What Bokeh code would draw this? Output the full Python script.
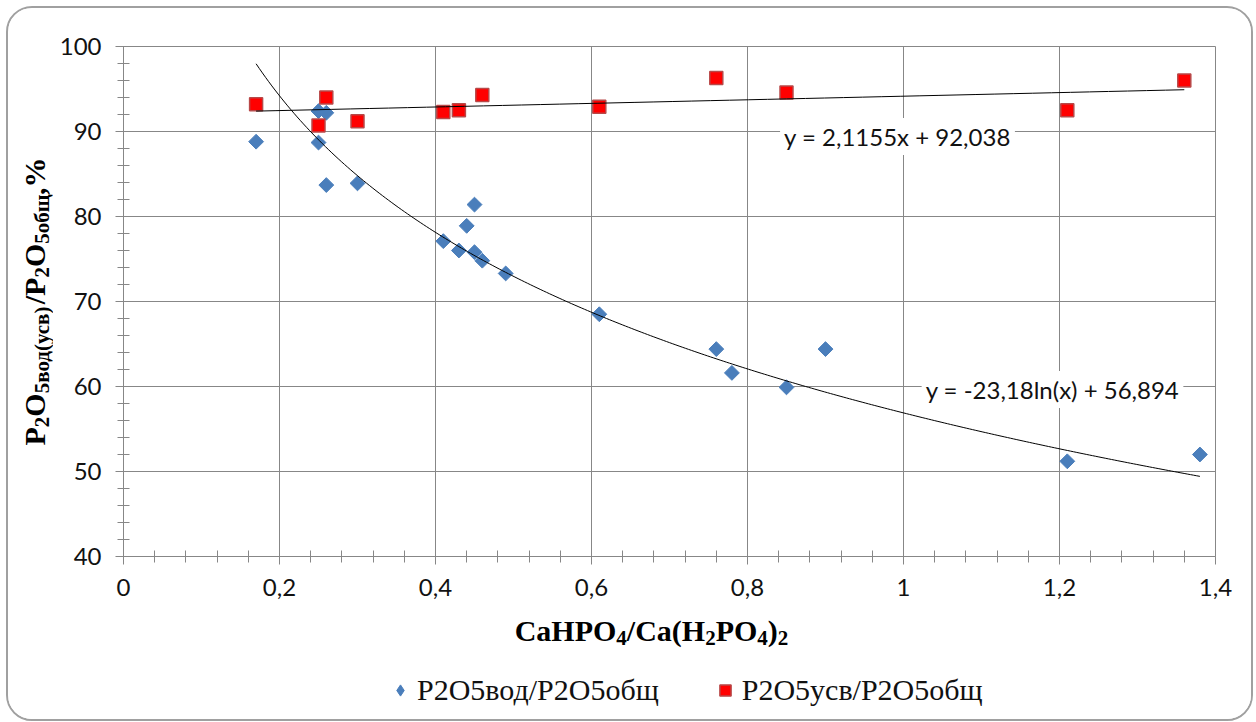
import numpy as np
from bokeh.plotting import figure
from bokeh.layouts import row, column
from bokeh.models import (Range1d, FixedTicker, CustomJSTickFormatter, Label,
                          Legend, LegendItem)
from bokeh.embed import file_html
from bokeh.resources import INLINE

# ---------------- data ----------------
x_vod = [0.17, 0.25, 0.26, 0.25, 0.26, 0.30, 0.41, 0.43, 0.44, 0.45, 0.45,
         0.46, 0.49, 0.61, 0.76, 0.78, 0.85, 0.90, 1.21, 1.38]
y_vod = [88.8, 92.4, 92.2, 88.7, 83.7, 83.9, 77.1, 76.0, 78.9, 81.4, 75.8,
         74.8, 73.3, 68.5, 64.4, 61.6, 59.9, 64.4, 51.2, 52.0]
x_usv = [0.17, 0.25, 0.26, 0.30, 0.41, 0.43, 0.46, 0.61, 0.76, 0.85, 1.21, 1.36]
y_usv = [93.2, 90.7, 94.0, 91.2, 92.3, 92.5, 94.3, 92.9, 96.3, 94.6, 92.5, 96.0]

lin_slope, lin_icpt = 2.1155, 92.038          # y = 2,1155x + 92,038
log_coef, log_icpt = -23.18, 56.894           # y = -23,18ln(x) + 56,894
eq_lin = "y = 2,1155x + 92,038"
eq_log = "y = -23,18ln(x) + 56,894"

x_ticks = [0, 0.2, 0.4, 0.6, 0.8, 1.0, 1.2, 1.4]
y_ticks = [40, 50, 60, 70, 80, 90, 100]
series_names = ["P2O5вод/P2O5общ", "P2O5усв/P2O5общ"]
x_title = [("CaHPO", 0), ("4", 1), ("/Ca(H", 0), ("2", 1), ("PO", 0),
           ("4", 1), (")", 0), ("2", 1)]
y_title = [("P", 0), ("2", 1), ("O", 0), ("5вод(усв)", 1), ("/", 0), ("P", 0),
           ("2", 1), ("O", 0), ("5общ", 1), (",%", 0)]

# ---------------- layout (page pixels) ----------------
OX, OY = 8, 8                 # content origin on the page
YW = 45                       # y-title strip width
TOTAL_W = 1243
H_TOP = 602                   # height of plot row
H_BOT = 109                   # height of x-title / legend strip
PW = TOTAL_W - YW
FRAME_L, FRAME_T, FRAME_W, FRAME_H = 123, 46, 1092, 510
X0, X1, Y0, Y1 = 0, 1.4, 40, 100

def dx(ix):
    return X0 + (ix - FRAME_L) / FRAME_W * (X1 - X0)

def dy(iy):
    return Y0 + (FRAME_T + FRAME_H - iy) / FRAME_H * (Y1 - Y0)

def no_align(f):
    try:
        f.frame_align = False
    except Exception:
        pass

GRID = "#878787"
mbl = FRAME_L - (OX + YW)
mbt = FRAME_T - OY
p = figure(width=PW, height=H_TOP, x_range=Range1d(X0, X1), y_range=Range1d(Y0, Y1),
           output_backend="svg", toolbar_location=None,
           min_border_left=mbl, min_border_right=PW - mbl - FRAME_W,
           min_border_top=mbt, min_border_bottom=H_TOP - mbt - FRAME_H)
no_align(p)
p.background_fill_color = "white"
p.border_fill_color = "white"
p.outline_line_color = GRID
p.outline_line_width = 1

fmt = CustomJSTickFormatter(code="""
const s = (Math.round(tick*10)/10).toString();
return s.replace('.', ',');
""")

minor_x = [i * 0.04 for i in range(36)]
minor_y = [40 + i * 2 for i in range(31)]
p.xaxis.ticker = FixedTicker(ticks=x_ticks, minor_ticks=minor_x)
p.yaxis.ticker = FixedTicker(ticks=y_ticks, minor_ticks=minor_y)
p.xaxis.formatter = fmt
p.yaxis.formatter = fmt
for ax in (p.xaxis, p.yaxis):
    ax.axis_line_color = GRID
    ax.major_tick_line_color = GRID
    ax.minor_tick_line_color = GRID
    ax.major_tick_in = 0
    ax.major_tick_out = 8
    ax.minor_tick_in = 6
    ax.minor_tick_out = 6
    ax.major_label_text_font = "Lato"
    ax.major_label_text_font_size = "24px"
    ax.major_label_text_color = "#111111"
    ax.major_label_standoff = 14
p.xgrid.grid_line_color = GRID
p.ygrid.grid_line_color = GRID
p.xgrid.ticker = FixedTicker(ticks=x_ticks)
p.ygrid.ticker = FixedTicker(ticks=y_ticks)

# ---------------- marks ----------------
BLUE, RED, RED_EDGE = "#4a7ebb", "#ff0000", "#b84848"
VOD_STYLE = dict(marker="square", angle=np.pi / 4, size=10.5,
                 fill_color=BLUE, line_color=BLUE)
USV_STYLE = dict(marker="square", size=13, fill_color=RED,
                 line_color=RED_EDGE, line_width=1.5)
p.scatter(x_vod, y_vod, **VOD_STYLE)
p.scatter(x_usv, y_usv, **USV_STYLE)

xl = np.linspace(min(x_usv), max(x_usv), 50)
p.line(xl, lin_slope * xl + lin_icpt, line_color="black", line_width=1)
xg = np.linspace(min(x_vod), max(x_vod), 300)
p.line(xg, log_coef * np.log(xg) + log_icpt, line_color="black", line_width=1)

for txt, ix, iy in [(eq_lin, 897, 136), (eq_log, 1052, 389)]:
    p.add_layout(Label(x=dx(ix), y=dy(iy), text=txt, text_align="center",
                       text_baseline="middle", text_font="Lato",
                       text_font_size="24px", text_color="#111111",
                       background_fill_color="white", padding=4))

# ---------------- title helpers ----------------
TB = {"C": .722, "a": .5, "H": .778, "P": .611, "O": .778, "/": .278,
      "(": .333, ")": .333, ",": .25, "%": 1.0, "в": .54, "о": .5, "д": .55,
      "у": .5, "с": .444, "б": .5, "щ": .82}

def width(s, size):
    return sum(TB.get(c, .5) for c in s) * size

MAIN, SUB, SHIFT = 30, 21, 5
MID = 0.3375                  # em distance from baseline to middle of text box

def strip(w, h):
    f = figure(width=w, height=h, x_range=Range1d(0, w), y_range=Range1d(0, h),
               output_backend="svg", toolbar_location=None, min_border=0,
               x_axis_type=None, y_axis_type=None)
    no_align(f)
    f.grid.visible = False
    f.outline_line_color = None
    f.background_fill_color = "white"
    f.border_fill_color = "white"
    return f

def title_label(t, x, y, sz, angle=0.0):
    return Label(x=x, y=y, text=t, angle=angle, text_align="left",
                 text_baseline="middle", text_font="Liberation Serif",
                 text_font_style="bold", text_font_size=f"{sz}px",
                 text_color="black")

# ---------------- y title strip ----------------
fy = strip(YW, H_TOP)
BASE_Y = 44                   # page x of main-text baseline
center_y = H_TOP - ((FRAME_T + FRAME_H / 2) - OY)
sizes = [SUB if s else MAIN for _, s in y_title]
total = sum(width(t, sz) for (t, _), sz in zip(y_title, sizes))
pos = center_y - total / 2
for (t, s), sz in zip(y_title, sizes):
    base = BASE_Y + (SHIFT if s else 0)
    fy.add_layout(title_label(t, base - MID * sz - OX, pos, sz, np.pi / 2))
    pos += width(t, sz)

# ---------------- x title + legend strip ----------------
fb = strip(TOTAL_W, H_BOT)
bot_top = OY + H_TOP            # page y of strip top

def by(iy):
    return H_BOT - (iy - bot_top)

BASE_X = 640                  # page y of main-text baseline
sizes = [SUB if s else MAIN for _, s in x_title]
total = sum(width(t, sz) for (t, _), sz in zip(x_title, sizes))
pos = (651 - OX) - total / 2
for (t, s), sz in zip(x_title, sizes):
    base = BASE_X + (SHIFT if s else 0)
    fb.add_layout(title_label(t, pos, by(base - MID * sz), sz))
    pos += width(t, sz)

# legend swatches (library-drawn markers, no data shown)
g_vod = fb.scatter([np.nan], [np.nan], marker="diamond", size=20,
                   fill_color=BLUE, line_color=BLUE)
g_usv = fb.scatter([np.nan], [np.nan], marker="square", size=14,
                   fill_color=RED, line_color=RED_EDGE, line_width=1.5)
legend = Legend(items=[LegendItem(label=series_names[0], renderers=[g_vod]),
                       LegendItem(label=series_names[1], renderers=[g_usv])],
                orientation="horizontal", location=(386 - OX, int(by(707))),
                label_text_font="Liberation Serif", label_text_font_size="30px",
                label_text_color="#111111", border_line_color=None,
                background_fill_alpha=0, spacing=52, glyph_width=28,
                glyph_height=30, label_height=30, label_standoff=3,
                padding=0, margin=0)
fb.add_layout(legend)

layout = column(row(fy, p, spacing=0), fb, spacing=0,
                styles={"margin-left": "6px", "margin-top": "6px",
                        "border": "2px solid #a0a0a0", "border-radius": "26px",
                        "overflow": "hidden"})

open("out.html", "w").write(file_html(layout, INLINE))
